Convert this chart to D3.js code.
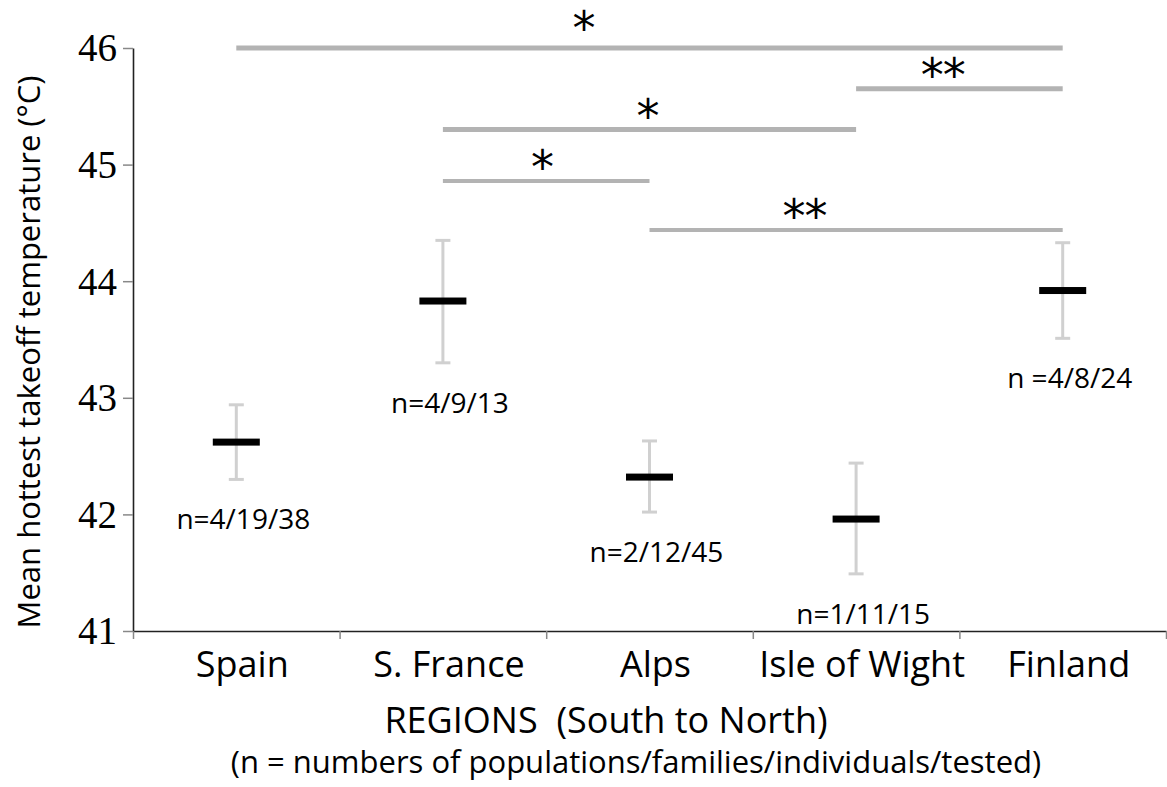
<!DOCTYPE html>
<html>
<head>
<meta charset="utf-8">
<script src="https://cdn.jsdelivr.net/npm/d3@7"></script>
<style>
  body { margin: 0; background: #fff; }
  text { font-family: "Open Sans", sans-serif; fill: #000; }
</style>
</head>
<body>
<svg id="chart" width="1167" height="787"></svg>
<script>
// data
var regions = ["Spain", "S. France", "Alps", "Isle of Wight", "Finland"];
var means   = [42.62, 43.83, 42.32, 41.96, 43.92];
var upper   = [42.94, 44.35, 42.63, 42.44, 44.33];
var lower   = [42.30, 43.30, 42.02, 41.49, 43.51];
var nLabels = ["n=4/19/38", "n=4/9/13", "n=2/12/45", "n=1/11/15", "n =4/8/24"];
var yTicks  = [41, 42, 43, 44, 45, 46];

// significance comparisons: from region, to region, level (°C), stars
var compFrom  = ["Spain", "Isle of Wight", "S. France", "S. France", "Alps"];
var compTo    = ["Finland", "Finland", "Isle of Wight", "Alps", "Finland"];
var compLevel = [46.0, 45.65, 45.30, 44.86, 44.44];
var compStars = ["*", "**", "*", "*", "**"];
var starAt    = [2.18, 3.92, 2.49, 1.98, 3.25]; // in band units along x

var svg = d3.select("#chart");
var pad = {left: 133, right: 1166, top: 48, bottom: 631};

var x = d3.scaleBand().domain(regions).range([pad.left, pad.right]).padding(0);
var xEdge = d3.scaleLinear().domain([0, regions.length]).range([pad.left, pad.right]);
var y = d3.scaleLinear().domain([41, 46]).range([pad.bottom, pad.top]);
var cx = function (r) { return x(r) + x.bandwidth() / 2; };

// y axis
var yAxis = d3.axisLeft(y).tickValues(yTicks).tickSize(10).tickSizeOuter(0).tickPadding(6).tickFormat(d3.format("d"));
var gy = svg.append("g").attr("transform", "translate(" + pad.left + ",0)").call(yAxis);
gy.select(".domain").attr("stroke", "#222").attr("stroke-width", 1.6);
gy.selectAll(".tick line").attr("stroke", "#888").attr("stroke-width", 1.5);
gy.selectAll(".tick text")
  .style("font-family", "'Liberation Serif', serif")
  .style("font-size", "39px").attr("fill", "#000").attr("dy", "0.33em");

// x axis: boundary ticks
var gx = svg.append("g").attr("transform", "translate(0," + pad.bottom + ")")
  .call(d3.axisBottom(xEdge).tickValues(d3.range(regions.length + 1)).tickSize(8).tickSizeOuter(0).tickFormat(""));
gx.select(".domain").attr("stroke", "#222").attr("stroke-width", 1.6);
gx.selectAll(".tick line").attr("stroke", "#888").attr("stroke-width", 1.5);

// x axis: category labels
var gl = svg.append("g").attr("transform", "translate(0," + pad.bottom + ")")
  .call(d3.axisBottom(x).tickSize(0).tickPadding(20));
gl.select(".domain").remove();
gl.selectAll(".tick text").style("font-family", "'Open Sans', sans-serif")
  .style("font-size", "36px").attr("fill", "#000").attr("dx", 6);

// error bars
var errColor = "#d0d0d0";
var g = svg.append("g");
regions.forEach(function (r, i) {
  var c = cx(r);
  g.append("line").attr("x1", c).attr("x2", c).attr("y1", y(upper[i])).attr("y2", y(lower[i]))
    .attr("stroke", errColor).attr("stroke-width", 3);
  [upper[i], lower[i]].forEach(function (v) {
    g.append("line").attr("x1", c - 7.5).attr("x2", c + 7.5).attr("y1", y(v)).attr("y2", y(v))
      .attr("stroke", errColor).attr("stroke-width", 3);
  });
  g.append("rect").attr("x", c - 23.5).attr("y", y(means[i]) - 3.5)
    .attr("width", 47).attr("height", 7).attr("fill", "#000");
  g.append("text").attr("x", c + 7).attr("y", y(lower[i]) + 50)
    .attr("text-anchor", "middle").style("font-size", "28px").text(nLabels[i]);
});

// significance bars
compFrom.forEach(function (f, i) {
  svg.append("line")
    .attr("x1", cx(f)).attr("x2", cx(compTo[i]))
    .attr("y1", y(compLevel[i])).attr("y2", y(compLevel[i]))
    .attr("stroke", "#b3b3b3").attr("stroke-width", i < 3 ? 5 : 4);
  svg.append("text")
    .attr("x", xEdge(starAt[i])).attr("y", y(compLevel[i]) + (i === 0 ? -4 : 2))
    .attr("text-anchor", "middle")
    .style("font-family", "'DejaVu Sans', sans-serif")
    .style("font-size", "46px").style("letter-spacing", "-1px")
    .text(compStars[i]);
});

// axis titles
svg.append("text")
  .attr("transform", "translate(40," + 352 + ") rotate(-90)")
  .attr("text-anchor", "middle").style("font-size", "31px")
  .text("Mean hottest takeoff temperature (°C)");

svg.append("text").attr("x", 606).attr("y", 733).attr("text-anchor", "middle")
  .style("font-size", "36px").style("white-space", "pre")
  .text("REGIONS  (South to North)");

svg.append("text").attr("x", 636).attr("y", 773).attr("text-anchor", "middle")
  .style("font-size", "31px")
  .text("(n = numbers of populations/families/individuals/tested)");
</script>
</body>
</html>
